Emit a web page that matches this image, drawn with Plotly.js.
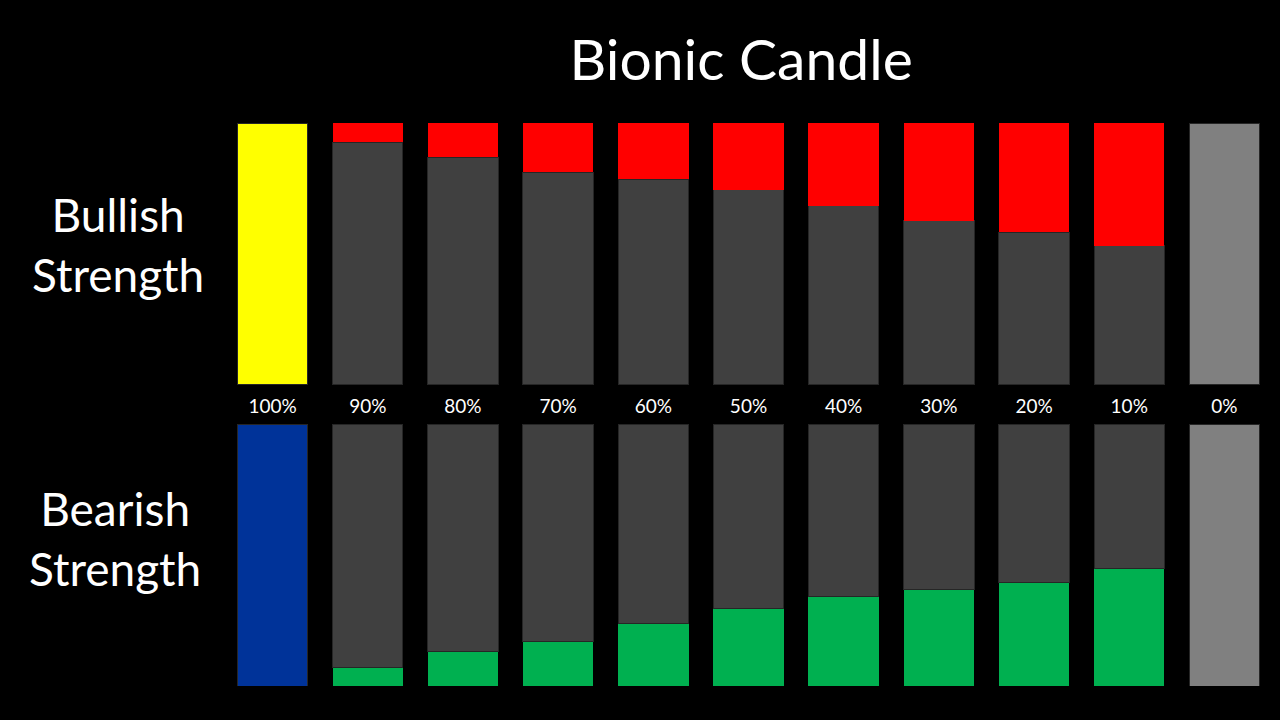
<!DOCTYPE html>
<html>
<head>
<meta charset="utf-8">
<script src="https://cdn.plot.ly/plotly-3.0.1.min.js"></script>
<style>
  html, body { margin: 0; padding: 0; background: #000; }
  #chart { width: 1280px; height: 720px; }
</style>
</head>
<body>
<div id="chart"></div>
<script>
// strength categories, shared by both rows
const strengthLabels = ['100%', '90%', '80%', '70%', '60%', '50%', '40%', '30%', '20%', '10%', '0%'];

// bullish row: share of each candle shown in red (top part)
const bullRed = [0, 0.073, 0.130, 0.187, 0.215, 0.254, 0.315, 0.372, 0.416, 0.469, 0];
// bearish row: share of each candle shown in green (bottom part)
const bearGreen = [0, 0.069, 0.132, 0.169, 0.240, 0.294, 0.340, 0.370, 0.394, 0.450, 0];

const FONT = 'Lato, "Open Sans", sans-serif';
const outline = { color: '#262626', width: 1 };

function bodyColors(first, last) {
    return strengthLabels.map((_, i) => i === 0 ? first : (i === strengthLabels.length - 1 ? last : '#404040'));
}

const traces = [
    // bullish: body below, red cap above
    {
        type: 'bar', x: strengthLabels, y: bullRed.map(v => 1 - v),
        xaxis: 'x', yaxis: 'y',
        marker: { color: bodyColors('#FFFF00', '#808080'), line: outline },
        hoverinfo: 'skip'
    },
    {
        type: 'bar', x: strengthLabels, y: bullRed,
        xaxis: 'x', yaxis: 'y',
        marker: { color: '#FF0000', line: { width: 0 } },
        hoverinfo: 'skip'
    },
    // bearish: green foot below, body above
    {
        type: 'bar', x: strengthLabels, y: bearGreen,
        xaxis: 'x2', yaxis: 'y2',
        marker: { color: '#00B050', line: { width: 0 } },
        hoverinfo: 'skip'
    },
    {
        type: 'bar', x: strengthLabels, y: bearGreen.map(v => 1 - v),
        xaxis: 'x2', yaxis: 'y2',
        marker: { color: bodyColors('#003399', '#808080'), line: outline },
        hoverinfo: 'skip'
    }
];

const hiddenY = { range: [0, 1], showgrid: false, zeroline: false, showticklabels: false, showline: false, fixedrange: true };

const layout = {
    width: 1280,
    height: 720,
    margin: { t: 0, b: 0, l: 225, r: 8 },
    paper_bgcolor: '#000000',
    plot_bgcolor: '#000000',
    showlegend: false,
    barmode: 'stack',
    bargap: 0.26,
    font: { family: FONT, color: '#FFFFFF' },
    title: {
        text: 'Bionic Candle',
        font: { family: FONT, size: 57, color: '#FFFFFF' },
        xref: 'container', x: 0.579, xanchor: 'center',
        yref: 'container', y: 0.917, yanchor: 'middle'
    },
    xaxis: {
        type: 'category', anchor: 'y', domain: [0, 1],
        showgrid: false, zeroline: false, showline: false,
        ticks: 'outside', ticklen: 4, tickcolor: 'rgba(0,0,0,0)',
        tickfont: { family: FONT, size: 19, color: '#FFFFFF' },
        fixedrange: true
    },
    yaxis: Object.assign({ domain: [0.4653, 0.829] }, hiddenY),
    xaxis2: {
        type: 'category', anchor: 'y2', domain: [0, 1],
        showgrid: false, zeroline: false, showline: false, showticklabels: false,
        fixedrange: true
    },
    yaxis2: Object.assign({ domain: [0.0472, 0.4111] }, hiddenY),
    annotations: [
        {
            text: 'Bullish<br>Strength', showarrow: false,
            xref: 'paper', x: -0.102, xanchor: 'center',
            yref: 'paper', y: 0.66, yanchor: 'middle',
            font: { family: FONT, size: 46, color: '#FFFFFF' }
        },
        {
            text: 'Bearish<br>Strength', showarrow: false,
            xref: 'paper', x: -0.105, xanchor: 'center',
            yref: 'paper', y: 0.252, yanchor: 'middle',
            font: { family: FONT, size: 46, color: '#FFFFFF' }
        }
    ]
};

Plotly.newPlot('chart', traces, layout, { displayModeBar: false, staticPlot: true });
</script>
</body>
</html>
